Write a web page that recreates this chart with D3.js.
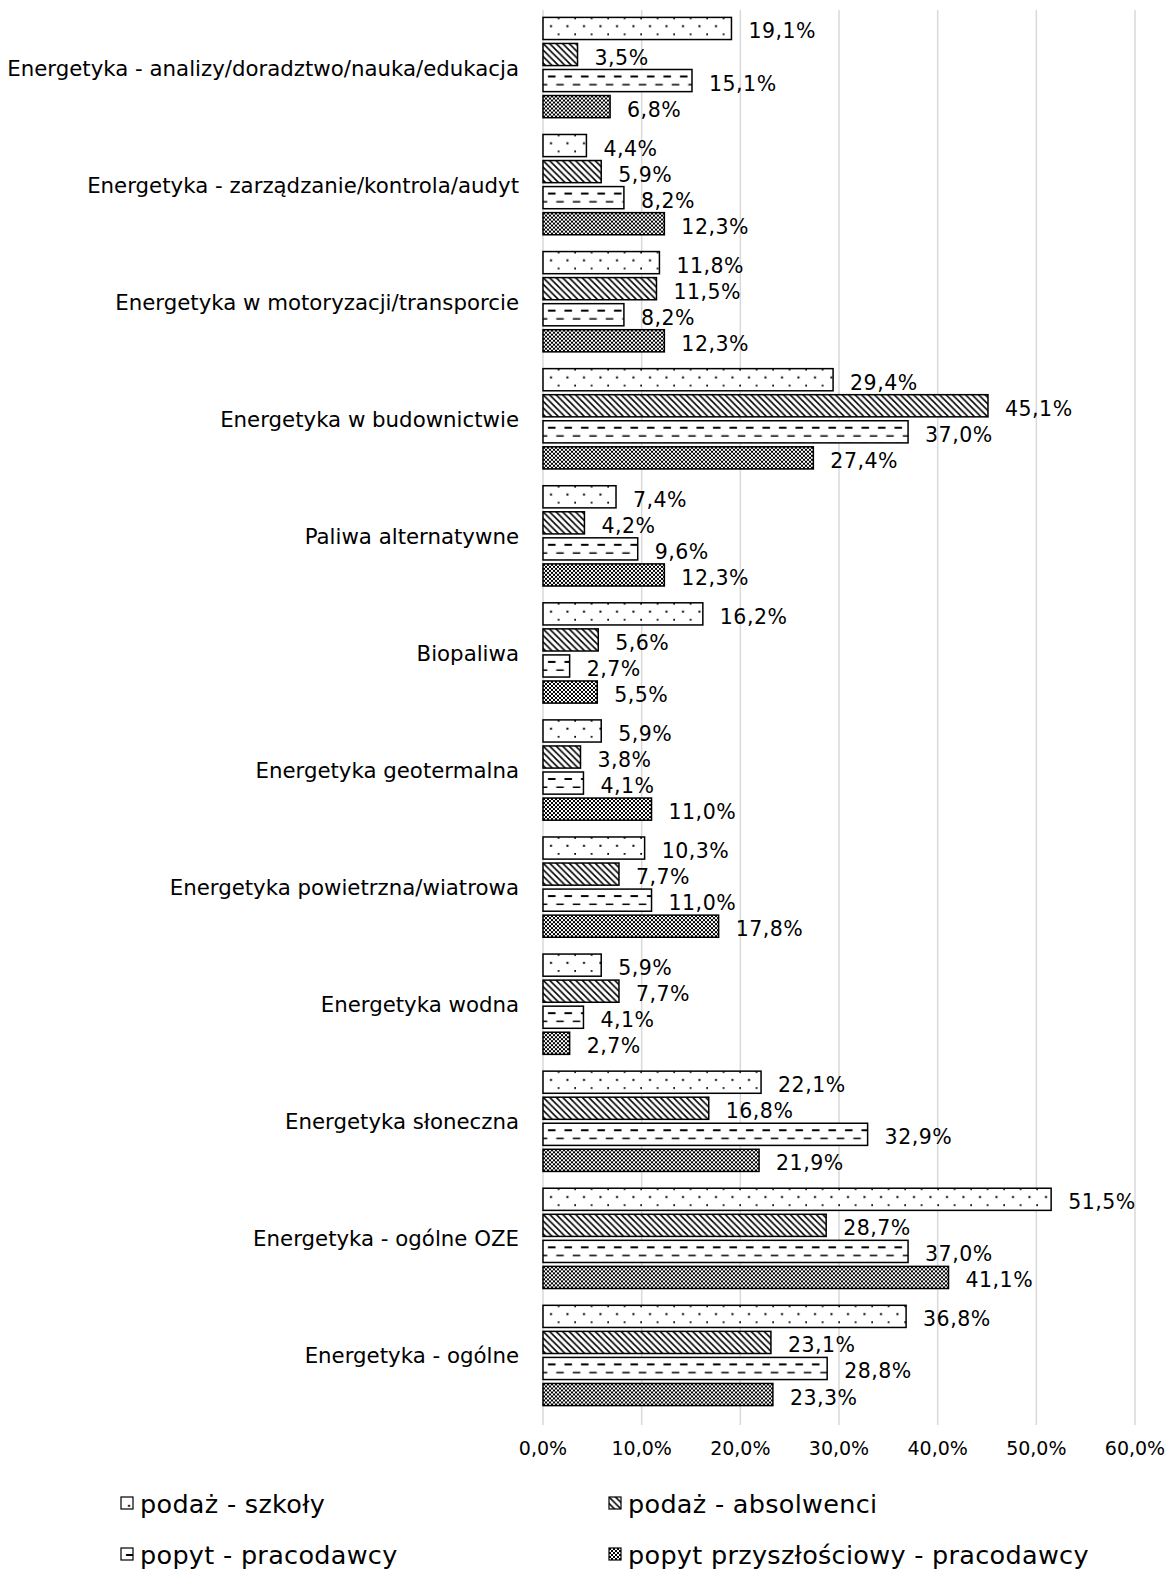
<!DOCTYPE html>
<html>
<head>
<meta charset="utf-8">
<script src="https://d3js.org/d3.v7.min.js"></script>
<style>
  body { margin: 0; background: #fff; }
  text { font-family: 'DejaVu Sans', sans-serif; fill: #000; }
</style>
</head>
<body>
<script>
'use strict';

// categories, top to bottom
const categories = [
  "Energetyka - analizy/doradztwo/nauka/edukacja",
  "Energetyka - zarządzanie/kontrola/audyt",
  "Energetyka w motoryzacji/transporcie",
  "Energetyka w budownictwie",
  "Paliwa alternatywne",
  "Biopaliwa",
  "Energetyka geotermalna",
  "Energetyka powietrzna/wiatrowa",
  "Energetyka wodna",
  "Energetyka słoneczna",
  "Energetyka - ogólne OZE",
  "Energetyka - ogólne"
];

const seriesNames = [
  "podaż - szkoły",
  "podaż - absolwenci",
  "popyt - pracodawcy",
  "popyt przyszłościowy - pracodawcy"
];

// values in %, same order as categories
const podazSzkoly = [19.1, 4.4, 11.8, 29.4, 7.4, 16.2, 5.9, 10.3, 5.9, 22.1, 51.5, 36.8];
const podazAbsolwenci = [3.5, 5.9, 11.5, 45.1, 4.2, 5.6, 3.8, 7.7, 7.7, 16.8, 28.7, 23.1];
const popytPracodawcy = [15.1, 8.2, 8.2, 37.0, 9.6, 2.7, 4.1, 11.0, 4.1, 32.9, 37.0, 28.8];
const popytPrzyszlosciowy = [6.8, 12.3, 12.3, 27.4, 12.3, 5.5, 11.0, 17.8, 2.7, 21.9, 41.1, 23.3];

const tickValues = [0, 10, 20, 30, 40, 50, 60];

const seriesValues = [podazSzkoly, podazAbsolwenci, popytPracodawcy, popytPrzyszlosciowy];
const patternIds = ["pDots", "pDiag", "pDash", "pCheck"];

let svgContainer = d3.select('body')
  .append('svg')
  .attr('width', 1176)
  .attr('height', 1571);

makePatterns();

let xScale = d3.scaleLinear().domain([0, 60]).range([543, 1135]);

let yScale = d3.scaleBand()
  .domain(categories)
  .range([9, 1414])
  .paddingInner(0.11)
  .paddingOuter(0.055);

let subScale = d3.scaleBand()
  .domain(d3.range(4))
  .range([0, yScale.bandwidth()])
  .paddingInner(0.15)
  .paddingOuter(0.075);

drawGrid();
drawBars();
drawLegend();

// fill patterns like the excel ones
function makePatterns() {
  let defs = svgContainer.append('defs');

  // sparse dots
  let dots = defs.append('pattern')
    .attr('id', 'pDots')
    .attr('patternUnits', 'userSpaceOnUse')
    .attr('width', 16.5).attr('height', 16);
  dots.append('rect').attr('width', 16.5).attr('height', 16).attr('fill', '#fff');
  dots.append('rect').attr('x', 7).attr('y', 7.8).attr('width', 2).attr('height', 2).attr('fill', '#000');
  dots.append('rect').attr('x', 14.8).attr('y', -0.2).attr('width', 2).attr('height', 2).attr('fill', '#000');

  // downward diagonal
  let diag = defs.append('pattern')
    .attr('id', 'pDiag')
    .attr('patternUnits', 'userSpaceOnUse')
    .attr('width', 6.5).attr('height', 6.5);
  diag.append('rect').attr('width', 6.5).attr('height', 6.5).attr('fill', '#fff');
  diag.append('path')
    .attr('d', 'M-2,-2L8.5,8.5M-2,4.5L2,8.5M4.5,-2L8.5,2')
    .attr('stroke', '#000')
    .attr('stroke-width', 1.6);

  // dashed horizontal
  let dash = defs.append('pattern')
    .attr('id', 'pDash')
    .attr('patternUnits', 'userSpaceOnUse')
    .attr('width', 16.5).attr('height', 16);
  dash.append('rect').attr('width', 16.5).attr('height', 16).attr('fill', '#fff');
  dash.append('rect').attr('x', 5).attr('y', 6).attr('width', 7.5).attr('height', 2).attr('fill', '#000');
  dash.append('rect').attr('x', 13.3).attr('y', 14.5).attr('width', 7.5).attr('height', 2).attr('fill', '#000');
  dash.append('rect').attr('x', -3.2).attr('y', 14.5).attr('width', 7.5).attr('height', 2).attr('fill', '#000');

  // fine checker
  let check = defs.append('pattern')
    .attr('id', 'pCheck')
    .attr('patternUnits', 'userSpaceOnUse')
    .attr('width', 4).attr('height', 4);
  check.append('rect').attr('width', 4).attr('height', 4).attr('fill', '#fff');
  check.append('rect').attr('width', 2).attr('height', 2).attr('fill', '#000');
  check.append('rect').attr('x', 2).attr('y', 2).attr('width', 2).attr('height', 2).attr('fill', '#000');
}

// vertical grid lines and x tick labels
function drawGrid() {
  svgContainer.append('g')
    .selectAll('line')
    .data(tickValues)
    .enter()
    .append('line')
      .attr('x1', (d) => xScale(d))
      .attr('x2', (d) => xScale(d))
      .attr('y1', 10)
      .attr('y2', 1425)
      .attr('stroke', '#d9d9d9')
      .attr('stroke-width', 1.5);

  svgContainer.append('g')
    .selectAll('text')
    .data(tickValues)
    .enter()
    .append('text')
      .attr('x', (d) => xScale(d))
      .attr('y', 1455)
      .attr('text-anchor', 'middle')
      .style('font-size', '19px')
      .text((d) => d.toFixed(1).replace('.', ',') + '%');
}

function drawBars() {
  let groups = svgContainer.selectAll('.cat')
    .data(categories)
    .enter()
    .append('g')
      .attr('class', 'cat')
      .attr('transform', (d) => 'translate(0,' + yScale(d) + ')');

  // category labels
  groups.append('text')
    .attr('x', 519)
    .attr('y', yScale.bandwidth() / 2 + 8)
    .attr('text-anchor', 'end')
    .style('font-size', '21.3px')
    .text((d) => d);

  groups.each(function(cat, ci) {
    let g = d3.select(this);
    let bars = g.selectAll('.bar')
      .data(seriesValues.map((vals, si) => ({ s: si, v: vals[ci] })))
      .enter()
      .append('g')
        .attr('class', 'bar')
        .attr('transform', (d) => 'translate(' + xScale(0) + ',' + subScale(d.s) + ')');

    bars.append('rect')
      .attr('x', 0)
      .attr('y', 0)
      .attr('width', (d) => xScale(d.v) - xScale(0))
      .attr('height', subScale.bandwidth())
      .attr('fill', (d) => 'url(#' + patternIds[d.s] + ')')
      .attr('stroke', '#000')
      .attr('stroke-width', 1.5);

    bars.append('text')
      .attr('x', (d) => xScale(d.v) - xScale(0) + 17)
      .attr('y', subScale.bandwidth() / 2 + 10)
      .style('font-size', '20.5px')
      .style('letter-spacing', '0.5px')
      .text((d) => d.v.toFixed(1).replace('.', ',') + '%');
  });
}

function drawLegend() {
  let pos = [[121, 1497], [609, 1497], [121, 1548], [609, 1548]];

  let items = svgContainer.append('g')
    .attr('class', 'legend')
    .selectAll('g')
    .data(seriesNames)
    .enter()
    .append('g')
      .attr('transform', (d, i) => 'translate(' + pos[i][0] + ',' + pos[i][1] + ')');

  items.append('rect')
    .attr('width', 12)
    .attr('height', 12)
    .attr('fill', (d, i) => 'url(#' + patternIds[i] + ')')
    .attr('stroke', '#000')
    .attr('stroke-width', 1.2);

  items.append('text')
    .attr('x', 19)
    .attr('y', 16)
    .style('font-size', '25.5px')
    .style('letter-spacing', '0.3px')
    .text((d) => d);
}
</script>
</body>
</html>
